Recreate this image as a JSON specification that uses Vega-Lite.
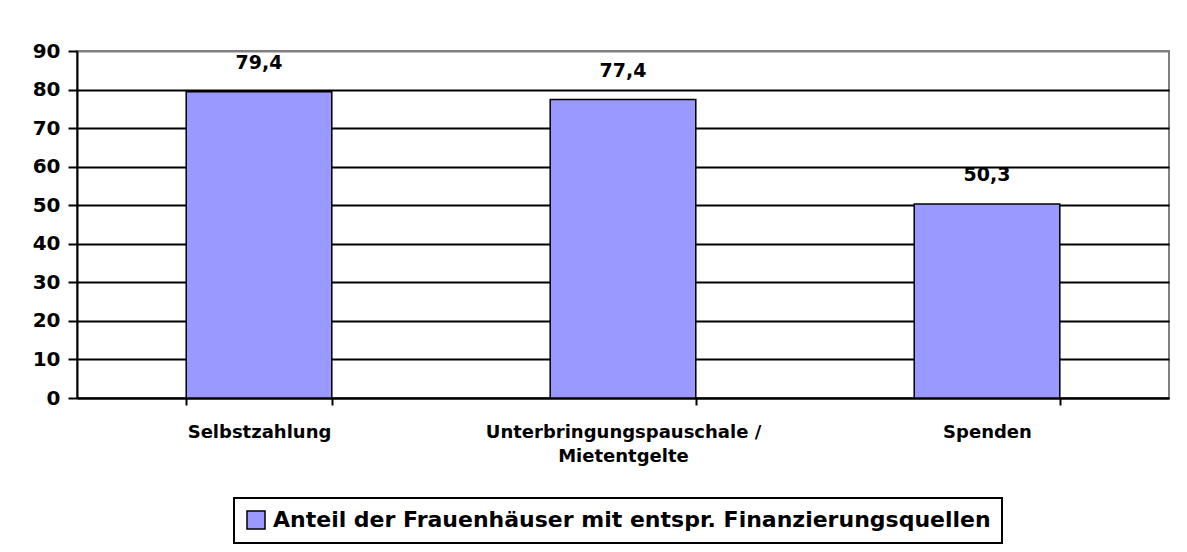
{
  "$schema": "https://vega.github.io/schema/vega-lite/v6.json",
  "width": 1092,
  "height": 347,
  "autosize": {"type": "none"},
  "padding": {"left": 77, "top": 51, "right": 18, "bottom": 154},
  "background": "white",
  "config": {
    "locale": {"number": {"decimal": ",", "thousands": ".", "grouping": [3], "currency": ["", " €"]}},
    "view": {"stroke": "#808080", "strokeWidth": 2},
    "font": "DejaVu Sans"
  },
  "data": {
    "values": [
      {"quelle": "Selbstzahlung", "anteil": 79.4, "serie": "Anteil der Frauenhäuser mit entspr. Finanzierungsquellen"},
      {"quelle": "Unterbringungspauschale / Mietentgelte", "anteil": 77.4, "serie": "Anteil der Frauenhäuser mit entspr. Finanzierungsquellen"},
      {"quelle": "Spenden", "anteil": 50.3, "serie": "Anteil der Frauenhäuser mit entspr. Finanzierungsquellen"}
    ]
  },
  "encoding": {
    "x": {
      "field": "quelle",
      "type": "nominal",
      "sort": null,
      "scale": {"paddingInner": 0.6, "paddingOuter": 0.3},
      "axis": {
        "title": null,
        "labelAngle": 0,
        "labelFont": "DejaVu Sans",
        "labelFontWeight": "bold",
        "labelFontSize": 18,
        "labelColor": "black",
        "labelPadding": 18,
        "labelLineHeight": 24,
        "labelLimit": 0,
        "labelExpr": "datum.value == 'Unterbringungspauschale / Mietentgelte' ? ['Unterbringungspauschale /', 'Mietentgelte'] : datum.label",
        "domain": true,
        "domainColor": "black",
        "domainWidth": 2,
        "ticks": true,
        "tickBand": "extent",
        "tickSize": 7,
        "tickColor": "black",
        "tickWidth": 2,
        "grid": false
      }
    },
    "y": {
      "field": "anteil",
      "type": "quantitative",
      "scale": {"domain": [0, 90], "nice": false},
      "axis": {
        "title": null,
        "values": [0, 10, 20, 30, 40, 50, 60, 70, 80, 90],
        "labelFont": "DejaVu Sans",
        "labelFontWeight": "bold",
        "labelFontSize": 20,
        "labelColor": "black",
        "labelPadding": 8,
        "domain": true,
        "domainColor": "black",
        "domainWidth": 2,
        "ticks": true,
        "tickSize": 9,
        "tickColor": "black",
        "tickWidth": 2,
        "grid": true,
        "gridColor": {"condition": {"test": "datum.value === 90", "value": "#808080"}, "value": "black"},
        "gridWidth": 2,
        "gridOpacity": 1
      }
    }
  },
  "layer": [
    {
      "mark": {"type": "bar", "stroke": "black", "strokeWidth": 1.5},
      "encoding": {
        "color": {
          "field": "serie",
          "type": "nominal",
          "scale": {"range": ["#9999FF"]},
          "legend": {
            "title": null,
            "orient": "none",
            "legendX": 157,
            "legendY": 447,
            "strokeColor": "black",
            "fillColor": "white",
            "padding": 11,
            "labelFont": "DejaVu Sans",
            "labelFontWeight": "bold",
            "labelFontSize": 22,
            "labelColor": "black",
            "labelLimit": 0,
            "labelOffset": 6,
            "symbolType": "square",
            "symbolSize": 324,
            "symbolStrokeColor": "black",
            "symbolStrokeWidth": 1.5,
            "symbolOpacity": 1,
            "encode": {"legend": {"update": {"strokeWidth": {"value": 2}}}}
          }
        }
      }
    },
    {
      "mark": {"type": "text", "baseline": "bottom", "dy": -19, "font": "DejaVu Sans", "fontWeight": "bold", "fontSize": 19, "color": "black"},
      "encoding": {
        "text": {"field": "anteil", "type": "quantitative", "format": ".1f"}
      }
    }
  ]
}
